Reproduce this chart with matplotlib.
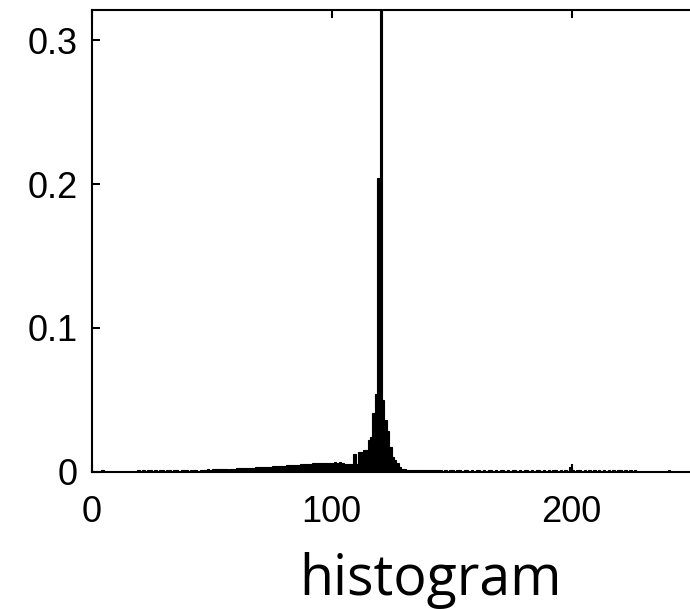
import numpy as np
import matplotlib
matplotlib.use('Agg')
import matplotlib.pyplot as plt

# ==========================================
# 1. DATA (grey-level histogram, bins 0..255)
# ==========================================
bins = np.arange(256)

freq = [
    # 0-15
    0, 0, 0, 0, 0.0014, 0, 0, 0, 0, 0, 0, 0, 0, 0, 0, 0,
    # 16-31
    0, 0, 0, 0.0014, 0, 0.0014, 0, 0.0014, 0.0014, 0, 0.0014, 0, 0.0014, 0.0014, 0, 0.0014,
    # 32-47
    0.0014, 0, 0.0014, 0.0014, 0, 0.0014, 0.0014, 0.0014, 0, 0.0014, 0.0014, 0.0014, 0, 0.0015, 0.0015, 0.0015,
    # 48-63
    0.0016, 0.0015, 0.0017, 0.0016, 0.0018, 0.0017, 0.0019, 0.0020, 0.0018, 0.0021, 0.0022, 0.0020, 0.0023, 0.0024, 0.0023, 0.0025,
    # 64-79
    0.0026, 0.0027, 0.0028, 0.0027, 0.0030, 0.0031, 0.0032, 0.0033, 0.0034, 0.0035, 0.0036, 0.0037, 0.0038, 0.0039, 0.0040, 0.0042,
    # 80-95
    0.0043, 0.0044, 0.0046, 0.0047, 0.0048, 0.0049, 0.0050, 0.0052, 0.0053, 0.0055, 0.0056, 0.0057, 0.0058, 0.0060, 0.0060, 0.0061,
    # 96-111
    0.0062, 0.0062, 0.0063, 0.0063, 0.0063, 0.0064, 0.0063, 0.0064, 0.0063, 0.0055, 0.0055, 0.0056, 0.0055, 0.0120, 0.0055, 0.0135,
    # 112-127
    0.0140, 0.0150, 0.0150, 0.0220, 0.0240, 0.0410, 0.0540, 0.2040, 0.4000, 0.0500, 0.0360, 0.0280, 0.0170, 0.0100, 0.0080, 0.0060,
    # 128-143
    0.0035, 0.0022, 0.0016, 0.0015, 0.0015, 0.0015, 0.0015, 0.0015, 0.0015, 0.0015, 0.0015, 0.0015, 0.0015, 0.0015, 0.0014, 0.0014,
    # 144-159
    0.0014, 0.0014, 0, 0.0014, 0, 0.0014, 0.0014, 0, 0.0014, 0.0014, 0, 0.0014, 0.0014, 0, 0.0014, 0,
    # 160-175
    0.0014, 0.0014, 0, 0.0014, 0, 0.0014, 0.0014, 0, 0.0014, 0, 0.0014, 0.0014, 0, 0.0014, 0, 0.0014,
    # 176-191
    0.0014, 0, 0.0014, 0, 0.0014, 0.0014, 0, 0.0014, 0, 0.0014, 0.0014, 0, 0.0014, 0, 0.0014, 0,
    # 192-207
    0.0014, 0.0014, 0, 0.0014, 0, 0.0014, 0, 0.0035, 0.0014, 0, 0.0014, 0.0014, 0, 0.0014, 0, 0.0014,
    # 208-223
    0, 0.0014, 0, 0.0014, 0, 0.0014, 0, 0.0014, 0, 0.0014, 0, 0.0014, 0.0014, 0, 0.0014, 0,
    # 224-239
    0.0014, 0, 0.0014, 0, 0, 0, 0, 0, 0, 0, 0, 0, 0, 0, 0, 0,
    # 240-255
    0.0014, 0, 0, 0, 0, 0, 0, 0, 0, 0, 0, 0, 0, 0, 0, 0,
]

x_ticks = [0, 100, 200]
y_ticks = [0, 0.1, 0.2, 0.3]
y_tick_labels = ['0', '0.1', '0.2', '0.3']
caption = 'histogram'

# ==========================================
# 2. FIGURE
# ==========================================
fig = plt.figure(figsize=(6.9, 6.09), dpi=100)
# axes run past the right edge: the reference is cropped there
ax = fig.add_axes([91.7 / 690, 137.3 / 609, 612 / 690, 461.7 / 609])

ax.bar(bins, freq, width=1.0, align='edge', color='black',
       edgecolor='black', linewidth=0.8)

ax.set_xlim(0, 255)
ax.set_ylim(0, 0.321)
ax.set_xticks(x_ticks)
ax.set_yticks(y_ticks)
ax.set_yticklabels(y_tick_labels)

for s in ax.spines.values():
    s.set_linewidth(1.5)
ax.tick_params(direction='in', length=5.5, width=1.5, top=True, right=True,
               labelsize=26)
ax.tick_params(axis='y', pad=10)
ax.tick_params(axis='x', pad=17)
for lbl in ax.get_xticklabels() + ax.get_yticklabels():
    lbl.set_fontfamily('Liberation Sans')

fig.text(431 / 690, 14 / 609, caption, ha='center', va='baseline',
         fontsize=40, fontfamily='Open Sans')

plt.savefig('out.png', dpi=100)
